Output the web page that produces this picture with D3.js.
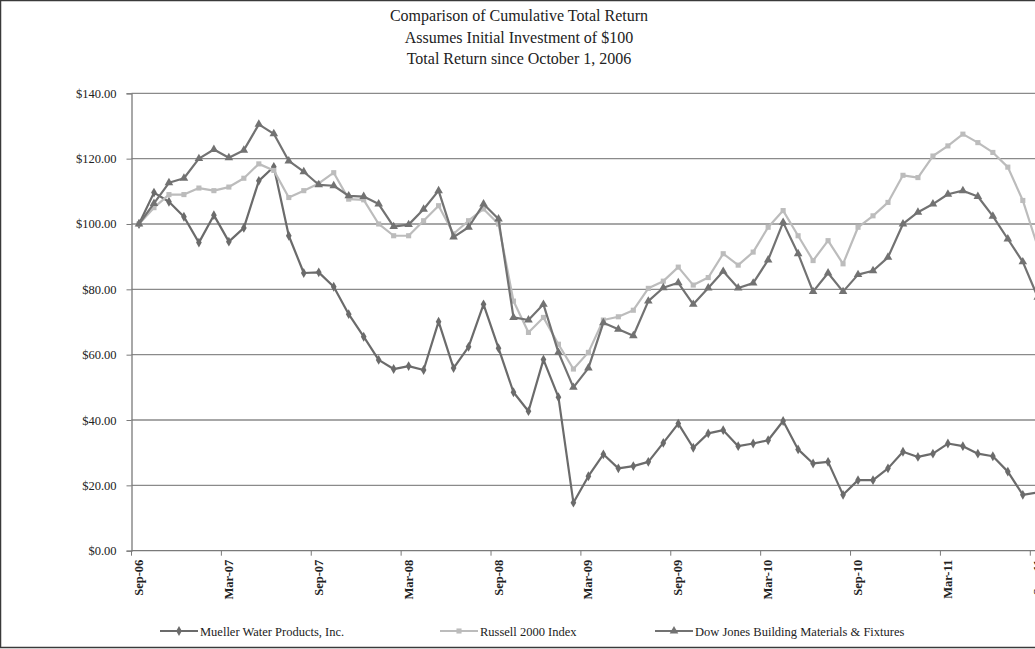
<!DOCTYPE html>
<html>
<head>
<meta charset="utf-8">
<script src="https://cdn.jsdelivr.net/npm/d3@7"></script>
<style>
  html, body { margin: 0; padding: 0; background: #fff; overflow: hidden; }
  svg { display: block; }
  text { font-family: "Liberation Serif", "Times New Roman", serif; fill: #222; }
</style>
</head>
<body>
<svg id="chart" width="1035" height="649"></svg>
<script>
// months on the category axis (Sep-06 .. Sep-11)
const months = [
  "Sep-06","Oct-06","Nov-06","Dec-06","Jan-07","Feb-07","Mar-07","Apr-07","May-07","Jun-07","Jul-07","Aug-07",
  "Sep-07","Oct-07","Nov-07","Dec-07","Jan-08","Feb-08","Mar-08","Apr-08","May-08","Jun-08","Jul-08","Aug-08",
  "Sep-08","Oct-08","Nov-08","Dec-08","Jan-09","Feb-09","Mar-09","Apr-09","May-09","Jun-09","Jul-09","Aug-09",
  "Sep-09","Oct-09","Nov-09","Dec-09","Jan-10","Feb-10","Mar-10","Apr-10","May-10","Jun-10","Jul-10","Aug-10",
  "Sep-10","Oct-10","Nov-10","Dec-10","Jan-11","Feb-11","Mar-11","Apr-11","May-11","Jun-11","Jul-11","Aug-11",
  "Sep-11"
];

const mueller = [
  100, 109.6, 106.8, 102.2, 94.3, 102.7, 94.6, 98.8, 113.2, 117.5, 96.4, 85,
  85.2, 80.8, 72.4, 65.5, 58.4, 55.6, 56.5, 55.3, 70.1, 55.9, 62.4, 75.4,
  62, 48.5, 42.7, 58.5, 47, 14.7, 22.8, 29.5, 25.2, 25.9, 27.2, 33,
  38.9, 31.5, 35.9, 36.9, 32, 32.8, 33.8, 39.7, 31, 26.7, 27.2, 17.1,
  21.6, 21.6, 25.2, 30.3, 28.7, 29.7, 32.8, 32, 29.7, 28.9, 24.2, 17.1,
  17.8
];

const russell = [
  100, 105, 109, 109, 111, 110.2, 111.3, 114, 118.4, 116.4, 108.1, 110.2,
  112.4, 115.7, 107.6, 107.4, 100, 96.4, 96.4, 101, 105.6, 97, 101, 104.6,
  100, 76.4, 66.8, 71.4, 63.2, 55.6, 60.7, 70.6, 71.6, 73.6, 80.3, 82.5,
  86.8, 81.3, 83.6, 90.9, 87.4, 91.4, 99, 104.1, 96.4, 88.8, 94.9, 87.8,
  99, 102.5, 106.6, 114.9, 114.2, 120.8, 123.9, 127.5, 124.9, 121.9, 117.4, 107.2,
  93
];

const dowJones = [
  100, 106.3, 112.6, 114, 120, 122.8, 120.3, 122.6, 130.5, 127.6, 119.3, 116,
  112, 111.7, 108.6, 108.4, 106.1, 99.2, 99.8, 104.5, 110.2, 96, 99, 106.1,
  101.5, 71.4, 70.6, 75.4, 60.7, 50, 55.9, 69.8, 67.8, 65.8, 76.4, 80.5,
  82, 75.4, 80.4, 85.5, 80.4, 81.9, 89, 100.5, 90.9, 79.3, 85, 79.3,
  84.5, 85.7, 89.8, 100, 103.6, 106.1, 109.1, 110.2, 108.4, 102.4, 95.4, 88.4,
  77.6
];

const yTicks = [0, 20, 40, 60, 80, 100, 120, 140];
const titleLines = [
  "Comparison of Cumulative  Total Return",
  "Assumes Initial Investment of $100",
  "Total Return since October 1, 2006"
];

const series = [
  { name: "Mueller Water Products, Inc.", values: mueller, color: "#6b6b6b", symbol: d3.symbolDiamond, size: 28 },
  { name: "Russell 2000 Index", values: russell, color: "#bcbcbc", symbol: d3.symbolSquare, size: 26 },
  { name: "Dow Jones Building Materials & Fixtures", values: dowJones, color: "#727272", symbol: d3.symbolTriangle, size: 32 }
];

const svg = d3.select("#chart");

// outer frame (right side runs off the picture)
svg.append("rect")
  .attr("x", 0.5).attr("y", 0.5)
  .attr("width", 1060).attr("height", 647)
  .attr("fill", "none").attr("stroke", "#3a3a3a").attr("stroke-width", 1.5);

const plot = { left: 131.5, top: 93.3, bottom: 550.7, step: 14.98 };
const plotRight = plot.left + plot.step * months.length;

const x = d3.scaleBand()
  .domain(months)
  .range([plot.left, plotRight])
  .paddingInner(0).paddingOuter(0);

const y = d3.scaleLinear()
  .domain([0, 140])
  .range([plot.bottom, plot.top]);

const cx = d => x(d) + x.bandwidth() / 2;

// title
svg.append("g").selectAll("text")
  .data(titleLines)
  .join("text")
  .attr("x", 519)
  .attr("y", (d, i) => 21 + i * 21.5)
  .attr("text-anchor", "middle")
  .attr("font-size", 16)
  .text(d => d);

// horizontal gridlines
svg.append("g")
  .selectAll("line")
  .data(yTicks.filter(d => d > 0))
  .join("line")
  .attr("x1", plot.left).attr("x2", plotRight)
  .attr("y1", d => y(d)).attr("y2", d => y(d))
  .attr("stroke", "#8a8a8a").attr("stroke-width", 1.3);

// y axis
const yAxis = svg.append("g")
  .attr("transform", `translate(${plot.left},0)`)
  .call(d3.axisLeft(y).tickValues(yTicks).tickSize(5).tickPadding(10)
    .tickFormat(d => "$" + d3.format(".2f")(d)));
yAxis.select(".domain").attr("stroke", "#7a7a7a").attr("stroke-width", 1.3);
yAxis.selectAll(".tick line").attr("stroke", "#7a7a7a");
yAxis.selectAll(".tick text")
  .attr("font-family", "Liberation Serif, serif")
  .attr("font-size", 12.5).attr("fill", "#222");

// x axis: ticks on category boundaries every 6 months, labels under every 6th month
const tickMonths = months.filter((d, i) => i % 6 === 0);
const xAxis = svg.append("g");
xAxis.append("line")
  .attr("x1", plot.left).attr("x2", plotRight)
  .attr("y1", plot.bottom).attr("y2", plot.bottom)
  .attr("stroke", "#7a7a7a").attr("stroke-width", 1.3);
xAxis.selectAll("line.tk")
  .data(tickMonths)
  .join("line")
  .attr("class", "tk")
  .attr("x1", d => x(d)).attr("x2", d => x(d))
  .attr("y1", plot.bottom).attr("y2", plot.bottom + 5)
  .attr("stroke", "#7a7a7a");
xAxis.selectAll("text")
  .data(tickMonths)
  .join("text")
  .attr("transform", d => `translate(${cx(d) + 4},${plot.bottom + 9}) rotate(-90)`)
  .attr("text-anchor", "end")
  .attr("font-size", 12.5)
  .attr("font-weight", "bold")
  .attr("fill", "#333")
  .text(d => d);

// series lines + markers
const line = d3.line()
  .x((d, i) => cx(months[i]))
  .y(d => y(d));

const sg = svg.append("g").selectAll("g")
  .data(series)
  .join("g");

sg.append("path")
  .attr("d", s => line(s.values))
  .attr("fill", "none")
  .attr("stroke", s => s.color)
  .attr("stroke-width", 2.2)
  .attr("stroke-linejoin", "round");

sg.each(function (s) {
  d3.select(this).selectAll("path.mk")
    .data(s.values)
    .join("path")
    .attr("class", "mk")
    .attr("transform", (d, i) => `translate(${cx(months[i])},${y(d)})`)
    .attr("d", d3.symbol().type(s.symbol).size(s.size))
    .attr("fill", s.color);
});

// legend
const legendX = [160, 440, 655];
const lg = svg.append("g").selectAll("g")
  .data(series)
  .join("g")
  .attr("transform", (s, i) => `translate(${legendX[i]},631)`);
lg.append("line")
  .attr("x1", 0).attr("x2", 38)
  .attr("stroke", s => s.color).attr("stroke-width", 2.2);
lg.append("path")
  .attr("transform", "translate(19,0)")
  .attr("d", s => d3.symbol().type(s.symbol).size(s.size)())
  .attr("fill", s => s.color);
lg.append("text")
  .attr("x", 40).attr("y", 4.5)
  .attr("font-size", 12.5)
  .text(s => s.name);
</script>
</body>
</html>
